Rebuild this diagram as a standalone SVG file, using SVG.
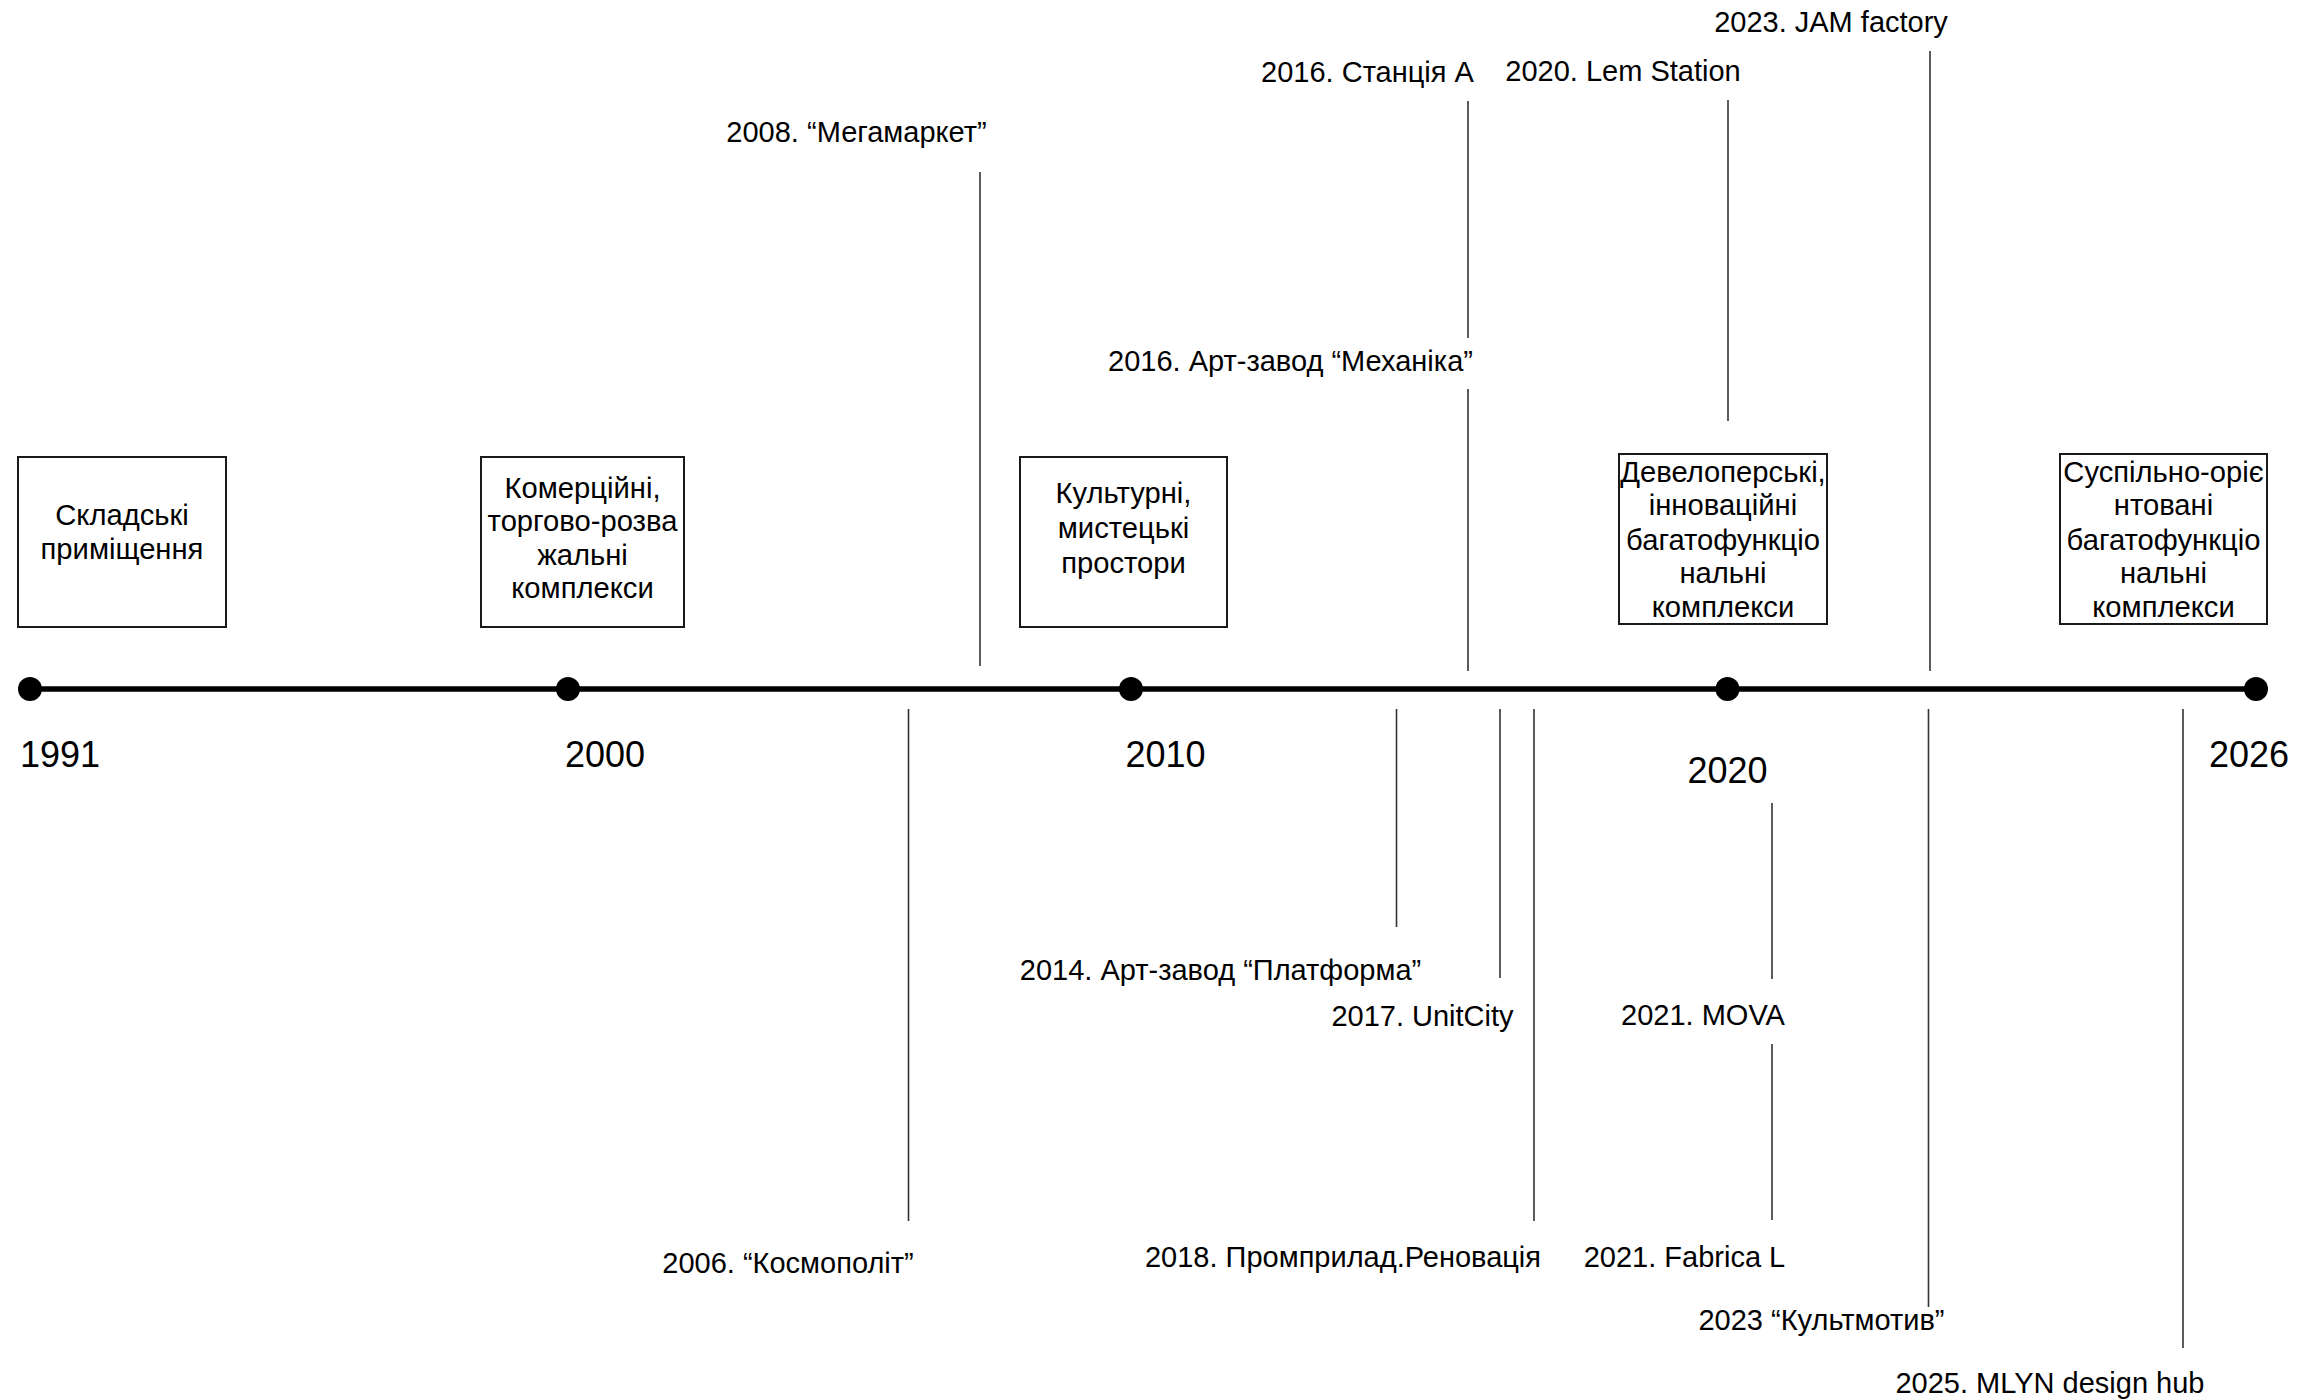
<svg xmlns="http://www.w3.org/2000/svg" width="2303" height="1400" viewBox="0 0 2303 1400">
<style>
text{font-family:"Liberation Sans",Arial,Helvetica,sans-serif;fill:#000}
.box{fill:#fff;stroke:#1a1a1a;stroke-width:2}
.bt{font-size:29.2px;text-anchor:middle}
.ev{font-size:29px;text-anchor:middle}
.yr{font-size:36px;text-anchor:middle}
.tick{stroke:#333;stroke-width:1.6;fill:none}
.axis{stroke:#000;stroke-width:5.5}
.dot{fill:#000}
</style>
<rect width="2303" height="1400" fill="#fff"/>
<g id="timeline">
<line class="axis" x1="30" y1="689" x2="2256" y2="689"/>
<circle class="dot" cx="30" cy="689" r="12"/>
<circle class="dot" cx="568" cy="689" r="12"/>
<circle class="dot" cx="1131" cy="689" r="12"/>
<circle class="dot" cx="1727.5" cy="689" r="12"/>
<circle class="dot" cx="2256" cy="689" r="12"/>
</g>
<g id="years">
<text class="yr" x="60" y="767">1991</text>
<text class="yr" x="605" y="767">2000</text>
<text class="yr" x="1165.5" y="767">2010</text>
<text class="yr" x="1727.5" y="783">2020</text>
<text class="yr" x="2249" y="767">2026</text>
</g>
<g id="box-warehouse">
<rect class="box" x="18" y="457" width="208" height="170"/>
<text class="bt" x="122" y="525">Складські</text>
<text class="bt" x="122" y="559">приміщення</text>
</g>
<g id="box-commercial">
<rect class="box" x="481" y="457" width="203" height="170"/>
<text class="bt" x="582.5" y="498">Комерційні,</text>
<text class="bt" x="582.5" y="531">торгово-розва</text>
<text class="bt" x="582.5" y="565">жальні</text>
<text class="bt" x="582.5" y="598">комплекси</text>
</g>
<g id="box-cultural">
<rect class="box" x="1020" y="457" width="207" height="170"/>
<text class="bt" x="1123.5" y="503">Культурні,</text>
<text class="bt" x="1123.5" y="538">мистецькі</text>
<text class="bt" x="1123.5" y="573">простори</text>
</g>
<g id="box-developer">
<rect class="box" x="1619" y="454" width="208" height="170"/>
<text class="bt" x="1723" y="482">Девелоперські,</text>
<text class="bt" x="1723" y="515">інноваційні</text>
<text class="bt" x="1723" y="550">багатофункціо</text>
<text class="bt" x="1723" y="583">нальні</text>
<text class="bt" x="1723" y="617">комплекси</text>
</g>
<g id="box-social">
<rect class="box" x="2060" y="454" width="207" height="170"/>
<text class="bt" x="2163.5" y="482">Суспільно-оріє</text>
<text class="bt" x="2163.5" y="515">нтовані</text>
<text class="bt" x="2163.5" y="550">багатофункціо</text>
<text class="bt" x="2163.5" y="583">нальні</text>
<text class="bt" x="2163.5" y="617">комплекси</text>
</g>
<g id="connectors">
<line class="tick" x1="980" y1="172" x2="980" y2="666"/>
<line class="tick" x1="1468" y1="101" x2="1468" y2="338"/>
<line class="tick" x1="1468" y1="389" x2="1468" y2="671"/>
<line class="tick" x1="1728" y1="100" x2="1728" y2="421"/>
<line class="tick" x1="1930" y1="51" x2="1930" y2="671"/>
<line class="tick" x1="908.5" y1="709" x2="908.5" y2="1221"/>
<line class="tick" x1="1396.5" y1="709" x2="1396.5" y2="927"/>
<line class="tick" x1="1500" y1="709" x2="1500" y2="978"/>
<line class="tick" x1="1534" y1="709" x2="1534" y2="1221"/>
<line class="tick" x1="1772" y1="803" x2="1772" y2="979"/>
<line class="tick" x1="1772" y1="1044" x2="1772" y2="1220"/>
<line class="tick" x1="1928.5" y1="709" x2="1928.5" y2="1307"/>
<line class="tick" x1="2183" y1="709" x2="2183" y2="1348"/>
</g>
<g id="ev-2008"><text class="ev" x="856.5" y="142">2008. “Мегамаркет”</text></g>
<g id="ev-2016a"><text class="ev" x="1367.5" y="82">2016. Станція А</text></g>
<g id="ev-2016b"><text class="ev" x="1290.5" y="371">2016. Арт-завод “Механіка”</text></g>
<g id="ev-2020"><text class="ev" x="1623" y="81">2020. Lem Station</text></g>
<g id="ev-2023a"><text class="ev" x="1831" y="32">2023. JAM factory</text></g>
<g id="ev-2006"><text class="ev" x="788" y="1273">2006. “Космополіт”</text></g>
<g id="ev-2014"><text class="ev" x="1220.5" y="980">2014. Арт-завод “Платформа”</text></g>
<g id="ev-2017"><text class="ev" x="1422.5" y="1026">2017. UnitCity</text></g>
<g id="ev-2018"><text class="ev" x="1343" y="1267">2018. Промприлад.Реновація</text></g>
<g id="ev-2021a"><text class="ev" x="1703" y="1025">2021. MOVA</text></g>
<g id="ev-2021b"><text class="ev" x="1684.5" y="1267">2021. Fabrica L</text></g>
<g id="ev-2023b"><text class="ev" x="1821.5" y="1330">2023 “Культмотив”</text></g>
<g id="ev-2025"><text class="ev" x="2050" y="1393">2025. MLYN design hub</text></g>
</svg>
